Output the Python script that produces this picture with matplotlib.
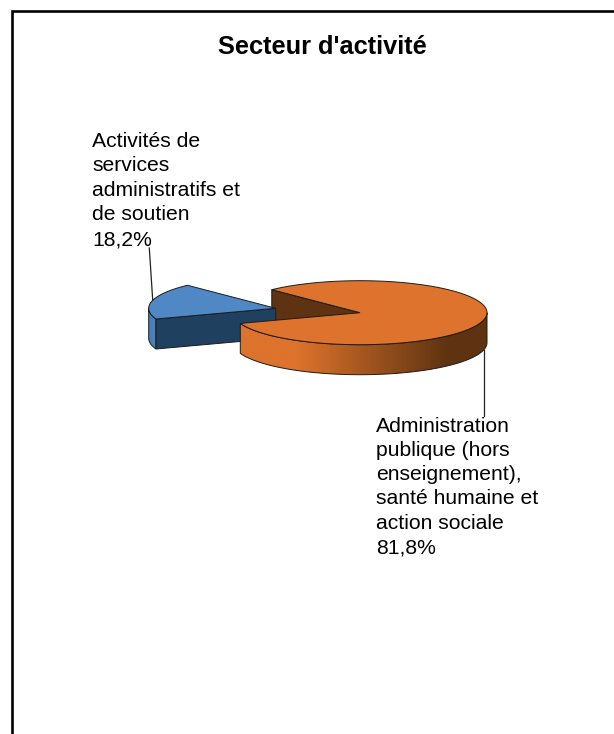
import numpy as np
import matplotlib
matplotlib.use("Agg")
import matplotlib.pyplot as plt
from matplotlib.patches import Polygon

plt.rcParams['font.family'] = ['Liberation Sans', 'DejaVu Sans']

title = "Secteur d'activité"
categories = ["Activités de\nservices\nadministratifs et\nde soutien",
              "Administration\npublique (hors\nenseignement),\nsanté humaine et\naction sociale"]
shares = [18.2, 81.8]
labels_txt = ["18,2%", "81,8%"]

# pie geometry, in pixels of the figure
cx, cy = 360, 312.7
rx, ry = 127, 32
depth = 30
explode_dx, explode_dy = -84.3, -4.4
start_angle = 134

OUTLINE = "#1c1c1c"


def rim_points(x0, y0, a1, a2, n=120):
    # a1, a2 in degrees, y axis goes down so flip the sin
    t = np.radians(np.linspace(a1, a2, n))
    return np.column_stack([x0 + rx * np.cos(t), y0 - ry * np.sin(t)])


def main():
    fig = plt.figure(figsize=(6.14, 7.34), dpi=100, facecolor="white")
    ax = fig.add_axes([0, 0, 1, 1])
    ax.set_xlim(0, 614)
    ax.set_ylim(734, 0)
    ax.axis("off")

    # chart border, only left and top are in the picture
    ax.plot([12, 12, 614], [734, 11, 11], color="black", lw=1.9, solid_joinstyle="miter", zorder=1)

    blue_span = shares[0] * 3.6
    a_orange_end = start_angle + blue_span

    # inner wall of the orange slice, seen through the gap
    p = rim_points(cx, cy, start_angle, start_angle, 1)[0]
    wall = [p, (cx, cy), (cx, cy + depth), (p[0], p[1] + depth)]
    ax.add_patch(Polygon(wall, fc="#5f3311", ec=OUTLINE, lw=0.7, zorder=2))

    # blue slice
    bx, by = cx + explode_dx, cy + explode_dy
    arc = rim_points(bx, by, start_angle, a_orange_end)
    side = rim_points(bx, by, 180, a_orange_end, 40)
    side_poly = np.vstack([side, side[::-1] + [0, depth]])
    ax.add_patch(Polygon(side_poly, fc="#4a80ba", ec=OUTLINE, lw=0.7, zorder=3))
    edge = arc[-1]
    ax.add_patch(Polygon([edge, (bx, by), (bx, by + depth), (edge[0], edge[1] + depth)],
                         fc="#20405f", ec=OUTLINE, lw=0.7, zorder=3))
    ax.add_patch(Polygon(np.vstack([[bx, by], arc]), fc="#4f88c4", ec=OUTLINE, lw=0.7, zorder=4))

    # orange rim with the left to right shading
    front = rim_points(cx, cy, a_orange_end, 360)
    rim_poly = np.vstack([front, front[::-1] + [0, depth]])
    rim_patch = Polygon(rim_poly, fc="none", ec=OUTLINE, lw=0.7, zorder=6)
    ax.add_patch(rim_patch)
    cmap = matplotlib.colors.LinearSegmentedColormap.from_list(
        "rim", [(0, "#dd732c"), (0.23, "#dd732c"), (0.84, "#5f3311"), (1, "#5f3311")], N=512)
    grad = ax.imshow(np.linspace(0, 1, 512)[None, :], cmap=cmap, aspect="auto", interpolation="bilinear",
                     extent=[front[0, 0], front[-1, 0], cy + ry + depth + 2, cy - 20], zorder=5)
    grad.set_clip_path(rim_patch)
    ax.set_xlim(0, 614)
    ax.set_ylim(734, 0)

    # orange top face
    top = rim_points(cx, cy, a_orange_end, 360 + start_angle, 300)
    ax.add_patch(Polygon(np.vstack([[cx, cy], top]), fc="#dd732c", ec=OUTLINE, lw=0.7, zorder=7))

    # leader lines
    ax.plot([149.3, 152.7], [248, 300], color="#222222", lw=0.9, zorder=8)
    ax.plot([484, 484], [350, 416], color="#222222", lw=0.9, zorder=8)

    ax.text(322.5, 54, title, fontsize=18.3, fontweight="bold", ha="center", va="baseline", zorder=9)
    ax.text(92.5, 245, categories[0] + "\n" + labels_txt[0], fontsize=15.2, ha="left", va="baseline",
            linespacing=1.37, zorder=9)
    ax.text(376, 553, categories[1] + "\n" + labels_txt[1], fontsize=15.2, ha="left", va="baseline",
            linespacing=1.35, zorder=9)

    fig.savefig("out.png", dpi=100, facecolor="white")


if __name__ == "__main__":
    main()
